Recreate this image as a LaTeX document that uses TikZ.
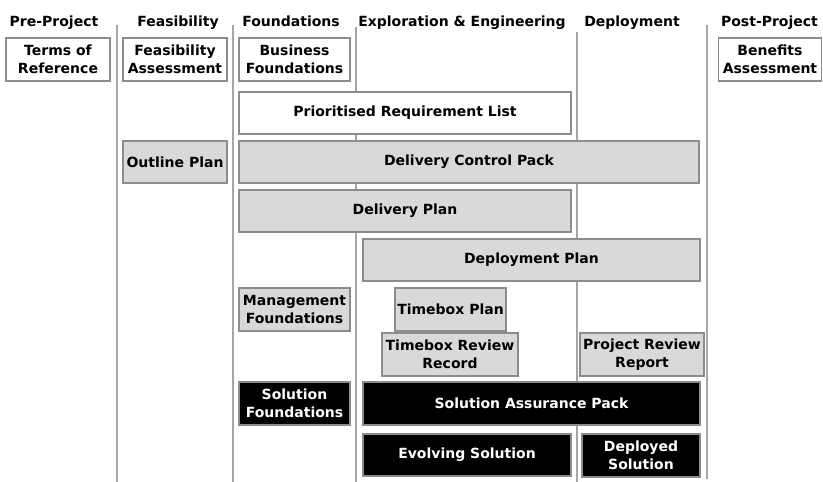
\documentclass[tikz,border=0pt]{standalone}
\usepackage{fontspec}
\setmainfont{DejaVu Sans}
\usetikzlibrary{calc}
\tikzset{
	lane/.style={line width=2pt, color=black!35},
	phase/.style={anchor=base, font=\bfseries\fontsize{14}{17}\selectfont},
	prod/.style={draw=black!45, line width=1.3pt, inner sep=0pt, align=center, font=\bfseries\fontsize{14}{17.5}\selectfont},
	whitebox/.style={prod, fill=white},
	greybox/.style={prod, fill=black!15},
	blackbox/.style={prod, fill=black, text=white},
	boxsize/.style 2 args={minimum width=#1pt, minimum height=#2pt}
}

\begin{document}
\begin{tikzpicture}[x=1pt, y=-1pt]
		%%%%% START %%%%%
		\useasboundingbox (0, 0) rectangle (823, 482);
		
		% phase names
		\node[phase] (prep) at (54, 26) {Pre-Project};
		\node[phase] (feas) at (178, 26) {Feasibility};
		\node[phase] (found) at (291, 26) {Foundations};
		\node[phase] (expl) at (462, 26) {Exploration \& Engineering};
		\node[phase] (depl) at (632, 26) {Deployment};
		\node[phase] (post) at (769.5, 26) {Post-Project};
		
		% lanes
		\draw[lane] (116.5, 25) -- (116.5, 482);
		\draw[lane] (233, 25) -- (233, 482);
		\draw[lane] (356, 27) -- (356, 482);
		\draw[lane] (577, 32) -- (577, 482);
		\draw[lane] (707, 25) -- (707, 479);
		
		% top row
		\node[whitebox, boxsize={104}{43}] (tor) at (58, 59.5) {Terms of\\Reference};
		\node[whitebox, boxsize={104}{43}] (feasass) at (175, 59.5) {Feasibility\\Assessment};
		\node[whitebox, boxsize={111}{43}] (busfound) at (294.5, 59.5) {Business\\Foundations};
		\node[whitebox, boxsize={103}{43}] (benass) at (770, 59.5) {Benefits\\Assessment};
		
		\node[whitebox, boxsize={332}{42}] (prl) at (405, 113) {Prioritised Requirement List};
		
		% plans
		\node[greybox, boxsize={104}{42}] (outline) at (175, 162) {Outline Plan};
		\node[greybox, boxsize={460}{42}] (dcp) at (469, 162) {Delivery Control Pack};
		\node[greybox, boxsize={332}{42}] (delplan) at (405, 211) {Delivery Plan};
		\node[greybox, boxsize={337}{42}] (deplplan) at (531.5, 260) {Deployment Plan};
		
		\node[greybox, boxsize={111}{43}] (mgmtfound) at (294.5, 309.5) {Management\\Foundations};
		\node[greybox, boxsize={111}{43}] (tbplan) at (450.5, 309.5) {Timebox Plan};
		\node[greybox, boxsize={136}{43}] (tbrr) at (450, 354.5) {Timebox Review\\Record};
		\node[greybox, boxsize={124}{43}] (prr) at (642, 354.5) {Project Review\\Report};
		
		% solution
		\node[blackbox, boxsize={111}{43}] (solfound) at (294.5, 403.5) {Solution\\Foundations};
		\node[blackbox, boxsize={337}{43}] (sap) at (531.5, 403.5) {Solution Assurance Pack};
		\node[blackbox, boxsize={208}{42}] (evsol) at (467, 455) {Evolving Solution};
		\node[blackbox, boxsize={118}{43}] (depsol) at (641, 455.5) {Deployed\\Solution};
		
		%%%%% END %%%%%
	\end{tikzpicture}
\end{document}
